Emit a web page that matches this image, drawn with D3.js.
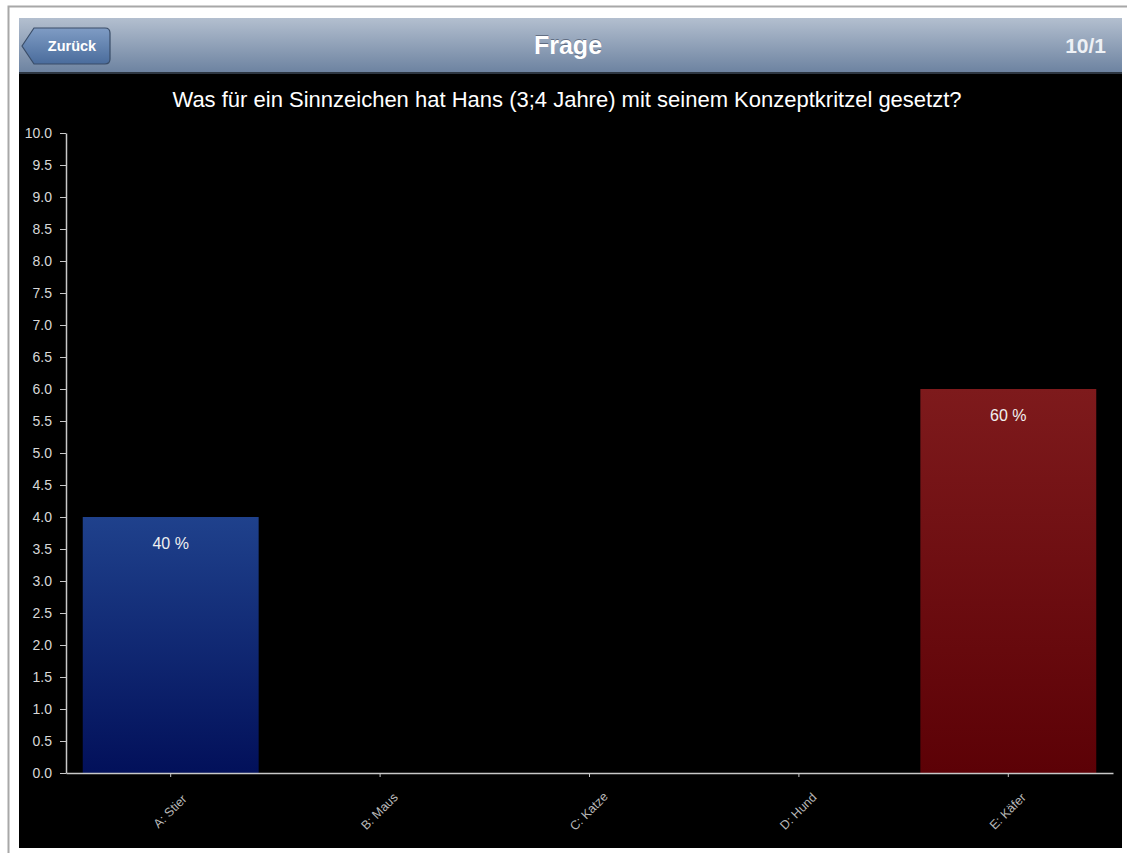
<!DOCTYPE html>
<html>
<head>
<meta charset="utf-8">
<script src="https://cdn.jsdelivr.net/npm/d3@7"></script>
<style>
  body { margin: 0; background: #fff; }
  text { font-family: "Liberation Sans", Arial, sans-serif; }
</style>
</head>
<body>
<div id="chart"></div>
<script>
// Data
const categories = ["A: Stier", "B: Maus", "C: Katze", "D: Hund", "E: Käfer"]
const values = [4, 0, 0, 0, 6]
const yTicks = d3.range(0, 10.01, 0.5)
const barColors = [
  ["#1f418c", "#02105a"],
  ["#1f418c", "#02105a"],
  ["#1f418c", "#02105a"],
  ["#1f418c", "#02105a"],
  ["#7e1a1c", "#5c0106"]
]
const navTitle = "Frage"
const question = "Was für ein Sinnzeichen hat Hans (3;4 Jahre) mit seinem Konzeptkritzel gesetzt?"
const pageLabel = "10/1"
const backLabel = "Zurück"

// Dimensions
let dimensions = {
  width: 1127,
  height: 853,
  left: 66,
  right: 1113,
  top: 133,
  bottom: 773
}

const svg = d3.select('#chart')
  .append("svg")
  .attr("width", dimensions.width)
  .attr("height", dimensions.height)

const defs = svg.append("defs")

// page frame
svg.append("rect")
  .attr("x", 8.5).attr("y", 6.5)
  .attr("width", 1130).attr("height", 860)
  .attr("fill", "#fff")
  .attr("stroke", "#a8a8a8")
  .attr("stroke-width", 2)

svg.append("rect")
  .attr("x", 19).attr("y", 18)
  .attr("width", 1103).attr("height", 830)
  .attr("fill", "#000")

// nav bar
const navGrad = defs.append("linearGradient")
  .attr("id", "nav").attr("x1", 0).attr("y1", 0).attr("x2", 0).attr("y2", 1)
navGrad.append("stop").attr("offset", "0%").attr("stop-color", "#b3bfcf")
navGrad.append("stop").attr("offset", "100%").attr("stop-color", "#6c82a0")

svg.append("rect")
  .attr("x", 19).attr("y", 18)
  .attr("width", 1103).attr("height", 55)
  .attr("fill", "url(#nav)")
svg.append("rect")
  .attr("x", 19).attr("y", 72)
  .attr("width", 1103).attr("height", 2)
  .attr("fill", "#2d3642")

const btnGrad = defs.append("linearGradient")
  .attr("id", "btn").attr("x1", 0).attr("y1", 0).attr("x2", 0).attr("y2", 1)
btnGrad.append("stop").attr("offset", "0%").attr("stop-color", "#7f9cc4")
btnGrad.append("stop").attr("offset", "100%").attr("stop-color", "#4a6c9c")

svg.append("path")
  .attr("d", "M22,46 L34,28 L105,28 Q110,28 110,33 L110,59 Q110,64 105,64 L34,64 Z")
  .attr("fill", "url(#btn)")
  .attr("stroke", "#3a4d68")
  .attr("stroke-width", 1.2)

svg.append("text")
  .attr("x", 72).attr("y", 51)
  .attr("text-anchor", "middle")
  .attr("font-size", 14.5).attr("font-weight", "bold")
  .attr("fill", "#fff")
  .text(backLabel)

svg.append("text")
  .attr("x", 568).attr("y", 54)
  .attr("text-anchor", "middle")
  .attr("font-size", 25).attr("font-weight", "bold")
  .attr("fill", "#fff")
  .style("text-shadow", "0 -1px 0 rgba(60,70,90,0.6)")
  .text(navTitle)

svg.append("text")
  .attr("x", 1106).attr("y", 53)
  .attr("text-anchor", "end")
  .attr("font-size", 21).attr("font-weight", "bold")
  .attr("fill", "#eef1f5")
  .text(pageLabel)

svg.append("text")
  .attr("x", 567).attr("y", 107)
  .attr("text-anchor", "middle")
  .attr("font-size", 22)
  .attr("fill", "#fff")
  .text(question)

// scales
const xScale = d3.scaleBand()
  .domain(categories)
  .range([dimensions.left, dimensions.right])
  .paddingInner(0.16)
  .paddingOuter(0.08)

const yScale = d3.scaleLinear()
  .domain([0, 10])
  .range([dimensions.bottom, dimensions.top])

const total = d3.sum(values)

// gradients for bars
barColors.forEach((c, i) => {
  const g = defs.append("linearGradient")
    .attr("id", "bar" + i).attr("x1", 0).attr("y1", 0).attr("x2", 0).attr("y2", 1)
  g.append("stop").attr("offset", "0%").attr("stop-color", c[0])
  g.append("stop").attr("offset", "100%").attr("stop-color", c[1])
})

const ctr = svg.append("g")

ctr.selectAll("rect.bar")
  .data(values)
  .join("rect")
  .attr("class", "bar")
  .attr("x", (d, i) => xScale(categories[i]))
  .attr("width", xScale.bandwidth())
  .attr("y", d => yScale(d))
  .attr("height", d => dimensions.bottom - yScale(d))
  .attr("fill", (d, i) => `url(#bar${i})`)

ctr.selectAll("text.pct")
  .data(values.map((d, i) => ({ d, i })).filter(o => o.d > 0))
  .join("text")
  .attr("class", "pct")
  .attr("x", o => xScale(categories[o.i]) + xScale.bandwidth() / 2)
  .attr("y", o => yScale(o.d) + 32)
  .attr("text-anchor", "middle")
  .attr("font-size", 16)
  .attr("fill", "#f0f0f0")
  .text(o => Math.round(o.d / total * 100) + " %")

// axes
const yAxis = d3.axisLeft(yScale)
  .tickValues(yTicks)
  .tickFormat(d3.format(".1f"))
  .tickSize(6)
  .tickSizeOuter(0)

const yAxisGroup = svg.append("g")
  .attr("transform", `translate(${dimensions.left},0)`)
  .call(yAxis)

yAxisGroup.select(".domain").attr("stroke", "#c8c8c8").attr("stroke-width", 1.5)
yAxisGroup.selectAll(".tick line").attr("stroke", "#c8c8c8")
yAxisGroup.selectAll(".tick text")
  .attr("x", -14)
  .attr("fill", "#d8d8d8")
  .attr("font-size", 14)
  .attr("font-family", "Liberation Sans, Arial, sans-serif")

const xAxis = d3.axisBottom(xScale)
  .tickSize(4)
  .tickSizeOuter(0)

const xAxisGroup = svg.append("g")
  .attr("transform", `translate(0,${dimensions.bottom})`)
  .call(xAxis)

xAxisGroup.select(".domain").attr("stroke", "#c8c8c8").attr("stroke-width", 1.5)
xAxisGroup.selectAll(".tick line").attr("stroke", "#c8c8c8")
xAxisGroup.selectAll(".tick text")
  .attr("y", 0).attr("dy", 0)
  .attr("transform", "translate(0,39) rotate(-45)")
  .attr("text-anchor", "middle")
  .attr("dominant-baseline", "middle")
  .attr("fill", "#b8b8b8")
  .attr("font-size", 12.5)
  .attr("font-family", "Liberation Sans, Arial, sans-serif")
</script>
</body>
</html>
